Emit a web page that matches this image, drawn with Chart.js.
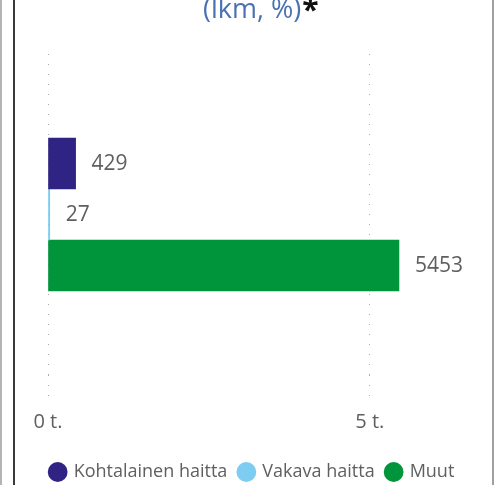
<!DOCTYPE html>
<html>
<head>
<meta charset="utf-8">
<script src="https://cdn.jsdelivr.net/npm/chart.js@4"></script>
<style>
  html, body { margin: 0; padding: 0; background: #fff; }
  #wrap { position: relative; width: 495px; height: 485px; overflow: hidden; }
  .edge { position: absolute; top: 0; bottom: 0; }
</style>
</head>
<body>
<div id="wrap">
  <canvas id="chart"></canvas>
  <div class="edge" style="left:0;width:2px;background:#b4b4b4"></div>
  <div class="edge" style="left:13px;width:2px;background:#3a3a3a"></div>
  <div class="edge" style="left:492px;width:2px;background:#a0a0a0"></div>
</div>
<script>
// ── Data ─────────────────────────────────────────────────────
const categories  = ['Haitta'];
const seriesNames = ['Kohtalainen haitta', 'Vakava haitta', 'Muut'];
const kohtalainen = [429];
const vakava      = [27];
const muut        = [5453];
const xTicks      = [0, 5000];
const xTickLabels = ['0 t.', '5 t.'];

const colors = ['#2f2483', '#7dcdf2', '#00953b'];
const FONT = "'Open Sans', 'Noto Sans', sans-serif";

// ── Title (first line sits above the visible area) ───────────
const titlePlugin = {
  id: 'cutTitle',
  afterDraw(chart) {
    const ctx = chart.ctx;
    ctx.save();
    ctx.textBaseline = 'alphabetic';
    ctx.textAlign = 'left';
    ctx.font = `27px ${FONT}`;
    ctx.fillStyle = '#4a72b2';
    const txt = '(lkm, %)';
    ctx.fillText(txt, 203, 18);
    const w = ctx.measureText(txt).width;
    ctx.fillStyle = '#111';
    ctx.font = `bold 30px ${FONT}`;
    ctx.fillText('*', 203 + w + 1, 20);
    ctx.restore();
  }
};

// ── Value labels next to bar ends ────────────────────────────
const valueLabels = {
  id: 'valueLabels',
  afterDatasetsDraw(chart) {
    const ctx = chart.ctx;
    ctx.save();
    ctx.font = `21px ${FONT}`;
    ctx.fillStyle = '#5f5f5f';
    ctx.textAlign = 'left';
    ctx.textBaseline = 'middle';
    chart.data.datasets.forEach((ds, i) => {
      chart.getDatasetMeta(i).data.forEach((bar, j) => {
        ctx.fillText(String(ds.data[j]), bar.x + 16, bar.y + 1);
      });
    });
    ctx.restore();
  }
};

new Chart(document.getElementById('chart'), {
  type: 'bar',
  data: {
    labels: categories,
    datasets: [
      { label: seriesNames[0], data: kohtalainen, backgroundColor: colors[0] },
      { label: seriesNames[1], data: vakava,      backgroundColor: colors[1] },
      { label: seriesNames[2], data: muut,        backgroundColor: colors[2] },
    ]
  },
  options: {
    indexAxis: 'y',
    responsive: true,
    maintainAspectRatio: false,
    animation: false,
    layout: { padding: { top: 54, left: 20, right: 10, bottom: -6 } },
    datasets: { bar: { barThickness: 51, borderWidth: 0 } },
    scales: {
      x: {
        min: 0,
        max: 6790,
        afterBuildTicks: axis => { axis.ticks = xTicks.map(v => ({ value: v })); },
        afterFit: axis => { axis.height += 4; },
        border: { display: false, dash: [1, 9] },
        grid: {
          color: '#acacac',
          lineWidth: 1,
          drawTicks: true,
          tickLength: 22,
          tickColor: '#acacac',
          tickBorderDash: [1, 9],
        },
        ticks: {
          padding: 13,
          color: '#5f5f5f',
          font: { family: FONT, size: 20 },
          callback: (v) => xTickLabels[xTicks.indexOf(v)] ?? ''
        }
      },
      y: {
        display: true,
        grid: { display: false },
        border: { display: false },
        ticks: { display: false },
        afterFit: axis => { axis.width = 28; }
      }
    },
    plugins: {
      legend: {
        position: 'bottom',
        labels: {
          usePointStyle: true,
          pointStyle: 'circle',
          boxWidth: 14,
          boxHeight: 14,
          padding: 12,
          color: '#5f5f5f',
          font: { family: FONT, size: 18 }
        }
      },
      tooltip: { enabled: false }
    }
  },
  plugins: [titlePlugin, valueLabels]
});
</script>
</body>
</html>
